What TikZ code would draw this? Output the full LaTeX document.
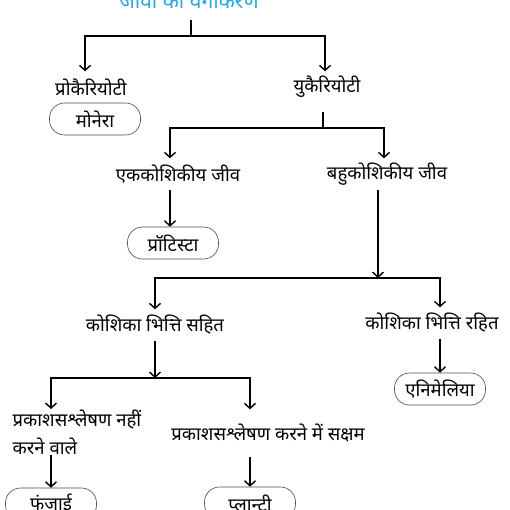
\documentclass[tikz,border=0pt]{standalone}
\usepackage{fontspec}
\usepackage{xcolor}
\usetikzlibrary{arrows.meta}
\newfontfamily\hindi[Script=Devanagari]{Noto Sans}
\definecolor{titleblue}{RGB}{41,168,224}
\begin{document}
\begin{tikzpicture}[x=1pt,y=-1pt,->,>={Straight Barb[length=5pt,width=11pt]},line width=1.4pt,
    lbl/.style={font=\hindi\fontsize{18.5}{28}\selectfont,inner sep=0pt,minimum height=30pt},
    grp/.style={draw=black!70,line width=0.6pt,rounded corners=15pt,minimum width=91pt,minimum height=32pt,inner sep=0pt,font=\hindi\fontsize{18.5}{20}\selectfont}]
                \useasboundingbox (0,0) rectangle (510,510);
                \node[font=\hindi\bfseries\fontsize{21}{24}\selectfont,text=titleblue,anchor=base] (title) at (189,9) {जीवों का वर्गीकरण};
                \coordinate (j0) at (191,36);
                \node[lbl] (prok) at (91,87) {प्रोकैरियोटी};
                \node[grp] (monera) at (95,119) {मोनेरा};
                \node[lbl] (euk) at (327,87) {युकैरियोटी};
                \coordinate (j1) at (323,128);
                \node[lbl] (ek) at (178,174) {एककोशिकीय जीव};
                \node[lbl] (bahu) at (387,174) {बहुकोशिकीय जीव};
                \node[grp] (prot) at (173,243) {प्रॉटिस्टा};
                \coordinate (j2) at (378,278);
                \node[lbl] (kbs) at (155,325) {कोशिका भित्ति सहित};
                \node[lbl] (kbr) at (432,323) {कोशिका भित्ति रहित};
                \node[grp] (anim) at (440,389) {एनिमेलिया};
                \coordinate (j3) at (155,378);
                \node[lbl,align=left,anchor=north west,minimum height=0pt] (pk1) at (12,409) {प्रकाशसश्लेषण नहीं\\करने वाले};
                \node[lbl,minimum height=46pt] (pk2) at (268,433) {प्रकाशसश्लेषण करने में सक्षम};
                \node[grp] (fungi) at (51,504) {फंजाई};
                \node[grp] (plant) at (250,503) {प्लान्टी};

                \draw[-,shorten <=7pt] (title.south -| j0) -- (j0);
                \draw (j0) -| ([xshift=-6pt]prok.north);
                \draw (j0) -| ([xshift=-2pt]euk.north);
                \draw[-,shorten <=9pt] (euk.south -| j1) -- (j1);
                \draw (j1) -| ([xshift=-8pt]ek.north);
                \draw (j1) -| ([xshift=-3pt]bahu.north);
                \draw (j2) -| (kbs);
                \draw (j2) -| ([xshift=8pt]kbr.north);
                \draw (j3) -| (fungi.north |- pk1.north);
                \draw (j3) -| (plant.north |- pk2.north);

                \path
                    ([xshift=-8pt]ek.south) edge (prot.north -| {(170,0)})
                    (bahu.south -| j2) edge (j2)
                    (kbs) edge (j3)
                    (anim.north |- kbr.south) edge (anim)
                    (fungi.north |- pk1.south) edge (fungi)
                    (plant.north |- pk2.south) edge (plant)
                    ;
            \end{tikzpicture}
\end{document}
